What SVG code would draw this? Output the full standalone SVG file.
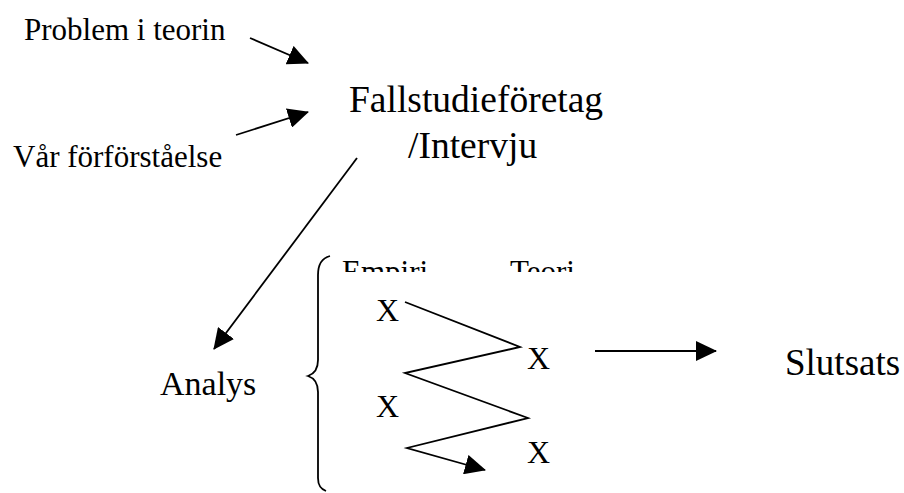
<svg xmlns="http://www.w3.org/2000/svg" width="904" height="493" viewBox="0 0 904 493">
<style>
.t{font-family:'Liberation Serif','Times New Roman','DejaVu Serif',serif;fill:#000}
.ln{stroke:#000;stroke-width:1.8;fill:none}
</style>
<defs>
<marker id="ah" markerUnits="userSpaceOnUse" markerWidth="22" markerHeight="20" refX="20" refY="10" orient="auto">
<path d="M0,0 L21,10 L0,20 z" fill="#000"/>
</marker>
<clipPath id="clipTop"><rect x="300" y="250" width="320" height="22"/></clipPath>
</defs>
<rect width="904" height="493" fill="#fff"/>
<g class="t" font-family="Liberation Serif, Times New Roman, DejaVu Serif, serif">
<g id="problem"><text x="24" y="40" font-size="31">Problem i teorin</text></g>
<g id="forforstaelse"><text x="13" y="167" font-size="31">Vår förförståelse</text></g>
<g id="fallstudie"><text x="349" y="112" font-size="37.5">Fallstudieföretag</text><text x="408" y="158" font-size="37.5">/Intervju</text></g>
<g id="analys"><text x="160" y="395" font-size="34">Analys</text></g>
<g id="slutsats"><text x="785" y="375" font-size="37">Slutsats</text></g>
<g id="header" clip-path="url(#clipTop)"><text x="342" y="282" font-size="31">Empiri</text><text x="510" y="282" font-size="31">Teori</text></g>
<g id="xs">
<text x="376" y="321" font-size="32">X</text>
<text x="527" y="369" font-size="32">X</text>
<text x="376" y="417" font-size="32">X</text>
<text x="527" y="463" font-size="32">X</text>
</g>
</g>
<g id="brace"><path class="ln" d="M330,256 C322,258 318,264 318,275 L318,360 C318,370 314,374 308,376 C314,378 318,382 318,392 L318,478 C318,486 321,489 326,491"/></g>
<g id="connectors">
<line class="ln" x1="250" y1="38" x2="308" y2="63" marker-end="url(#ah)"/>
<line class="ln" x1="236" y1="135" x2="308" y2="112" marker-end="url(#ah)"/>
<line class="ln" x1="357" y1="158" x2="214" y2="349" marker-end="url(#ah)"/>
<polyline class="ln" points="405,302 520,347 405,373 528,418 407,448 485,470" marker-end="url(#ah)"/>
<line class="ln" x1="595" y1="351" x2="716" y2="351" marker-end="url(#ah)"/>
</g>
</svg>
